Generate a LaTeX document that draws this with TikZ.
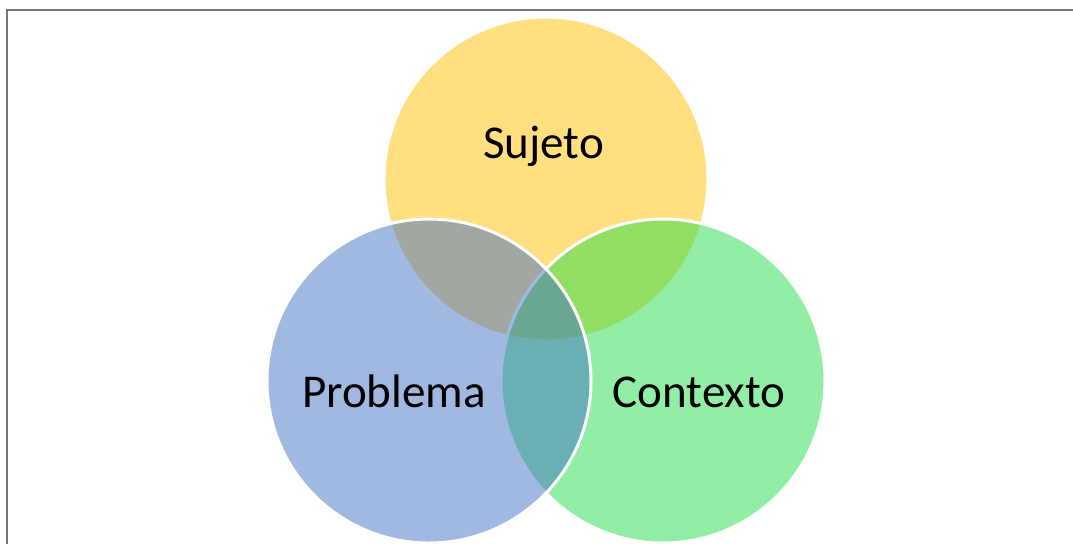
\documentclass[tikz,border=0pt]{standalone}
\usepackage{fontspec}
\setmainfont{Carlito}
\definecolor{vennYellow}{RGB}{255,192,0}
\definecolor{vennBlue}{RGB}{68,114,196}
\definecolor{vennGreen}{RGB}{37,221,73}
\tikzset{every picture/.style={line width=0.75pt}}
\tikzset{vennset/.style={draw=white, line width=2.25pt, fill opacity=0.5, draw opacity=1},
	vennlabel/.style={inner sep=0.75pt, anchor=base, font=\fontsize{35.3}{42}\selectfont}}
\begin{document}
\begin{tikzpicture}[x=0.75pt,y=0.75pt,yscale=-1,xscale=1]
	\useasboundingbox (0,0) rectangle (1073,544);
	
	%Straight Lines [id:frame] 
	\draw [color={rgb,255:red,118;green,118;blue,118}, line width=1.3]  (7,544) -- (7,10) -- (1073,10) ;
	%Shape: Circle [id:sujeto] 
	\draw [vennset, fill=vennYellow]  (546,179) circle (162) ;
	%Shape: Circle [id:contexto] 
	\draw [vennset, fill=vennGreen]  (663,381) circle (162) ;
	%Shape: Circle [id:problema] 
	\draw [vennset, fill=vennBlue]  (429,381) circle (162) ;
	
	% Text Node
	\node [vennlabel] (sujeto) at (543.5,158) {Sujeto};
	% Text Node
	\node [vennlabel] (problema) at (394,407) {Problema};
	% Text Node
	\node [vennlabel] (contexto) at (699,407) {Contexto};
	
\end{tikzpicture}
\end{document}
